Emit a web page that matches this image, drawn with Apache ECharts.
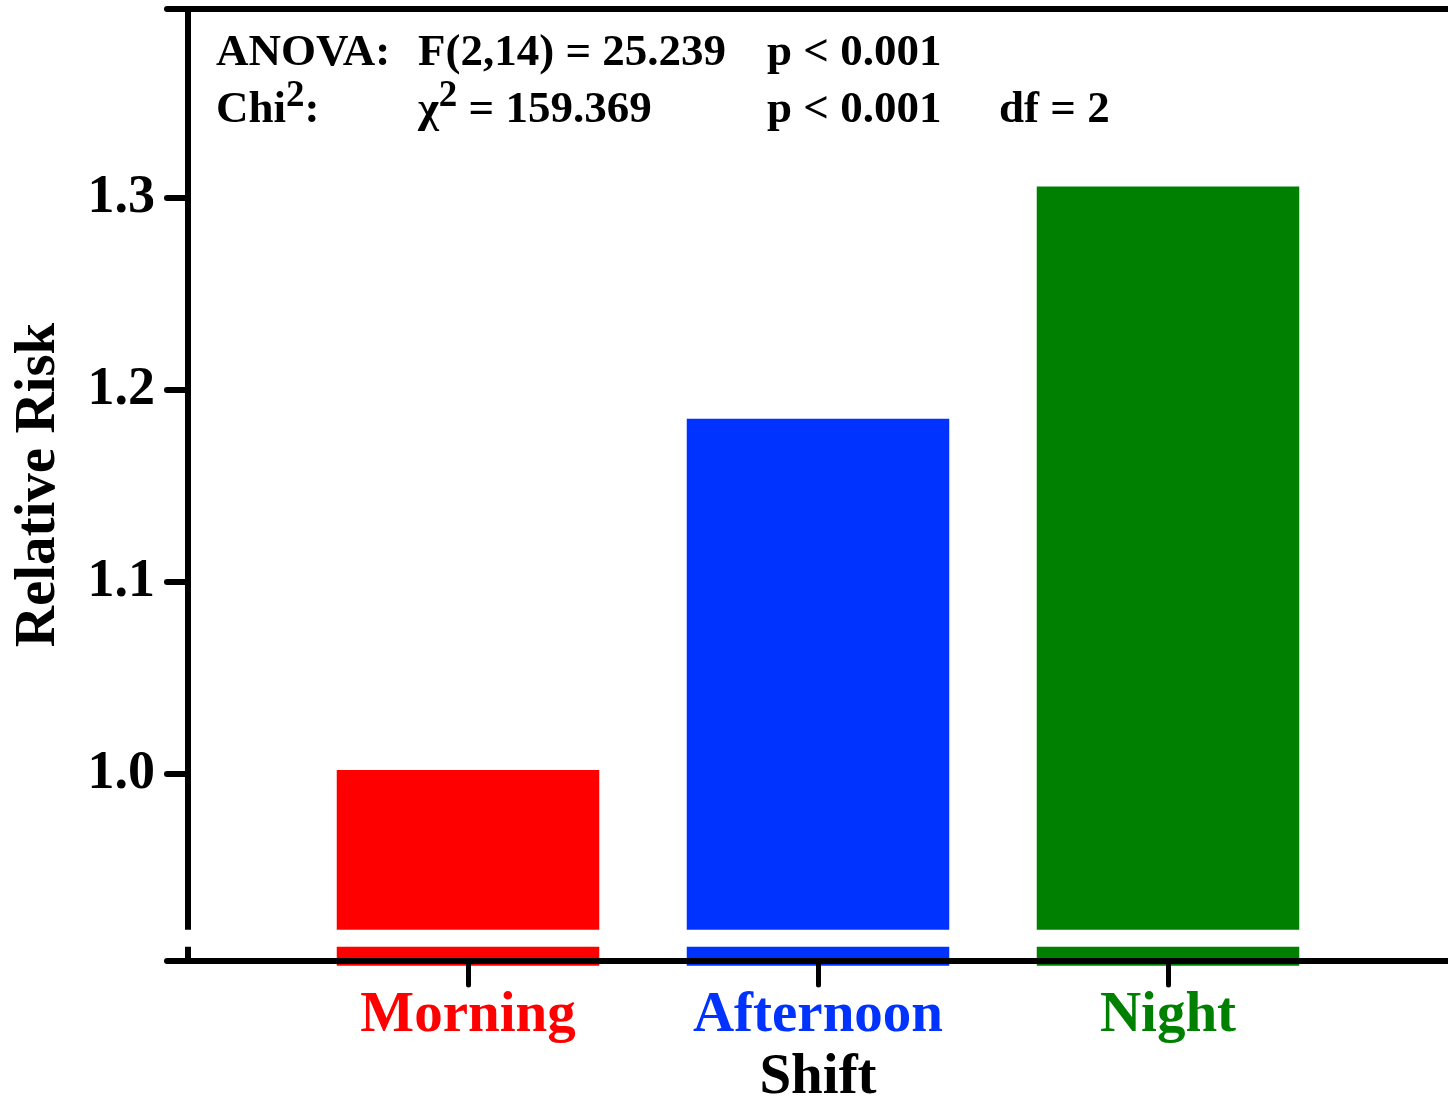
<!DOCTYPE html>
<html>
<head>
<meta charset="utf-8">
<title>Relative Risk by Shift</title>
<script src="https://cdn.jsdelivr.net/npm/echarts@6/dist/echarts.min.js"></script>
<style>
  html, body { margin: 0; padding: 0; background: #ffffff; }
  #chart { width: 1448px; height: 1099px; }
</style>
</head>
<body>
<div id="chart"></div>
<script>
// Shifts and their relative risk
const shifts = ['Morning', 'Afternoon', 'Night'];
const shiftPos = [1, 2, 3];
const relativeRisk = [1.002, 1.185, 1.306];
const shiftColors = ['#FF0000', '#0033FF', '#008000'];

// Value axis layout
const yMin = 0.9025;
const yMax = 1.3985;
const yTickLabels = [1.0, 1.1, 1.2, 1.3];
const barBase = 0.9;
// Scale break drawn as a gap on the axis and bars
const breakRange = [0.9099, 0.9188];

// Horizontal position axis
const xMin = 0.2;
const xMax = 3.8;
const barWidth = 0.75;

// Statistics shown above the bars
const statsRow1 = ['ANOVA:', 'F(2,14) = 25.239', 'p < 0.001'];
const statsRow2 = ['{b|Chi}{s|2}{b|:}', '{b|χ}{s|2}{b| = 159.369}', 'p < 0.001', 'df = 2'];

const FONT = '"Liberation Serif", "Times New Roman", serif';

const chart = echarts.init(document.getElementById('chart'), null, { renderer: 'canvas' });

const richStyles = {
  b: { fontFamily: FONT, fontWeight: 'bold', fontSize: 45, lineHeight: 56, verticalAlign: 'bottom', fill: '#000' },
  s: { fontFamily: FONT, fontWeight: 'bold', fontSize: 37, lineHeight: 37, padding: [0, 0, 18, 0], verticalAlign: 'bottom', fill: '#000' }
};

function statText(str, left, top) {
  const hasSup = str.indexOf('{') === 0;
  const txt = hasSup ? str : '{b|' + str + '}';
  return {
    type: 'text',
    left: left,
    top: hasSup ? top - 10 : top,
    z: 20,
    style: { text: txt, rich: richStyles, fill: '#000' }
  };
}

const colLeft = [216, 418, 767, 999];
const graphics = [];
statsRow1.forEach((s, i) => graphics.push(statText(s, colLeft[i], 31)));
statsRow2.forEach((s, i) => graphics.push(statText(s, colLeft[i], 88)));

const richLabels = {};
shifts.forEach((name, i) => {
  richLabels['c' + i] = {
    color: shiftColors[i],
    fontFamily: FONT,
    fontWeight: 'bold',
    fontSize: 57
  };
});

const option = {
  animation: false,
  backgroundColor: '#ffffff',
  grid: { left: 188, right: 0, top: 9, bottom: 138, containLabel: false, outerBoundsMode: 'none' },
  graphic: graphics,
  xAxis: [
    {
      type: 'value',
      min: xMin,
      max: xMax,
      position: 'bottom',
      z: 10,
      splitLine: { show: false },
      axisLine: { show: true, lineStyle: { color: '#000', width: 6, cap: 'round' } },
      axisTick: {
        show: true,
        customValues: shiftPos,
        length: 24,
        inside: false,
        lineStyle: { color: '#000', width: 5, cap: 'round' }
      },
      axisLabel: {
        show: true,
        customValues: shiftPos,
        margin: 27,
        rich: richLabels,
        formatter: function (v) {
          const i = shiftPos.indexOf(Math.round(v));
          return i < 0 ? '' : '{c' + i + '|' + shifts[i] + '}';
        }
      },
      name: 'Shift',
      nameLocation: 'middle',
      nameGap: 89,
      nameTextStyle: { fontFamily: FONT, fontWeight: 'bold', fontSize: 57, color: '#000' }
    },
    {
      type: 'value',
      min: xMin,
      max: xMax,
      position: 'top',
      z: 10,
      splitLine: { show: false },
      axisLine: { show: true, lineStyle: { color: '#000', width: 6 } },
      axisTick: { show: false },
      axisLabel: { show: false }
    }
  ],
  yAxis: {
    type: 'value',
    min: yMin,
    max: yMax,
    z: 0,
    splitLine: { show: false },
    axisLine: { show: true, lineStyle: { color: '#000', width: 6 } },
    axisTick: {
      show: true,
      customValues: [yMin].concat(yTickLabels, [yMax]),
      length: 21,
      inside: false,
      lineStyle: { color: '#000', width: 6, cap: 'round' }
    },
    axisLabel: {
      show: true,
      customValues: yTickLabels,
      margin: 33,
      fontFamily: FONT,
      fontWeight: 'bold',
      fontSize: 54,
      color: '#000',
      formatter: function (v) { return v.toFixed(1); }
    },
    name: 'Relative Risk',
    nameLocation: 'middle',
    nameGap: 120,
    nameRotate: 90,
    nameTextStyle: { fontFamily: FONT, fontWeight: 'bold', fontSize: 57, color: '#000' }
  },
  series: [
    {
      type: 'custom',
      name: 'Relative Risk',
      z: 2,
      clip: false,
      data: shiftPos.map((x, i) => [x, relativeRisk[i]]),
      renderItem: function (params, api) {
        const x = api.value(0);
        const v = api.value(1);
        const top = api.coord([x, v]);
        const base = api.coord([x, barBase]);
        const w = api.size([barWidth, 0])[0];
        return {
          type: 'rect',
          shape: { x: top[0] - w / 2, y: top[1], width: w, height: base[1] - top[1] },
          style: { fill: shiftColors[params.dataIndex] }
        };
      }
    },
    {
      type: 'custom',
      name: 'break',
      z: 3,
      clip: false,
      silent: true,
      data: [[breakRange[0], breakRange[1]]],
      renderItem: function (params, api) {
        const lo = api.coord([xMin, api.value(0)]);
        const hi = api.coord([xMax, api.value(1)]);
        return {
          type: 'rect',
          shape: { x: lo[0] - 8, y: hi[1], width: hi[0] - lo[0] + 8, height: lo[1] - hi[1] },
          style: { fill: '#ffffff' }
        };
      }
    }
  ]
};

chart.setOption(option);
</script>
</body>
</html>
